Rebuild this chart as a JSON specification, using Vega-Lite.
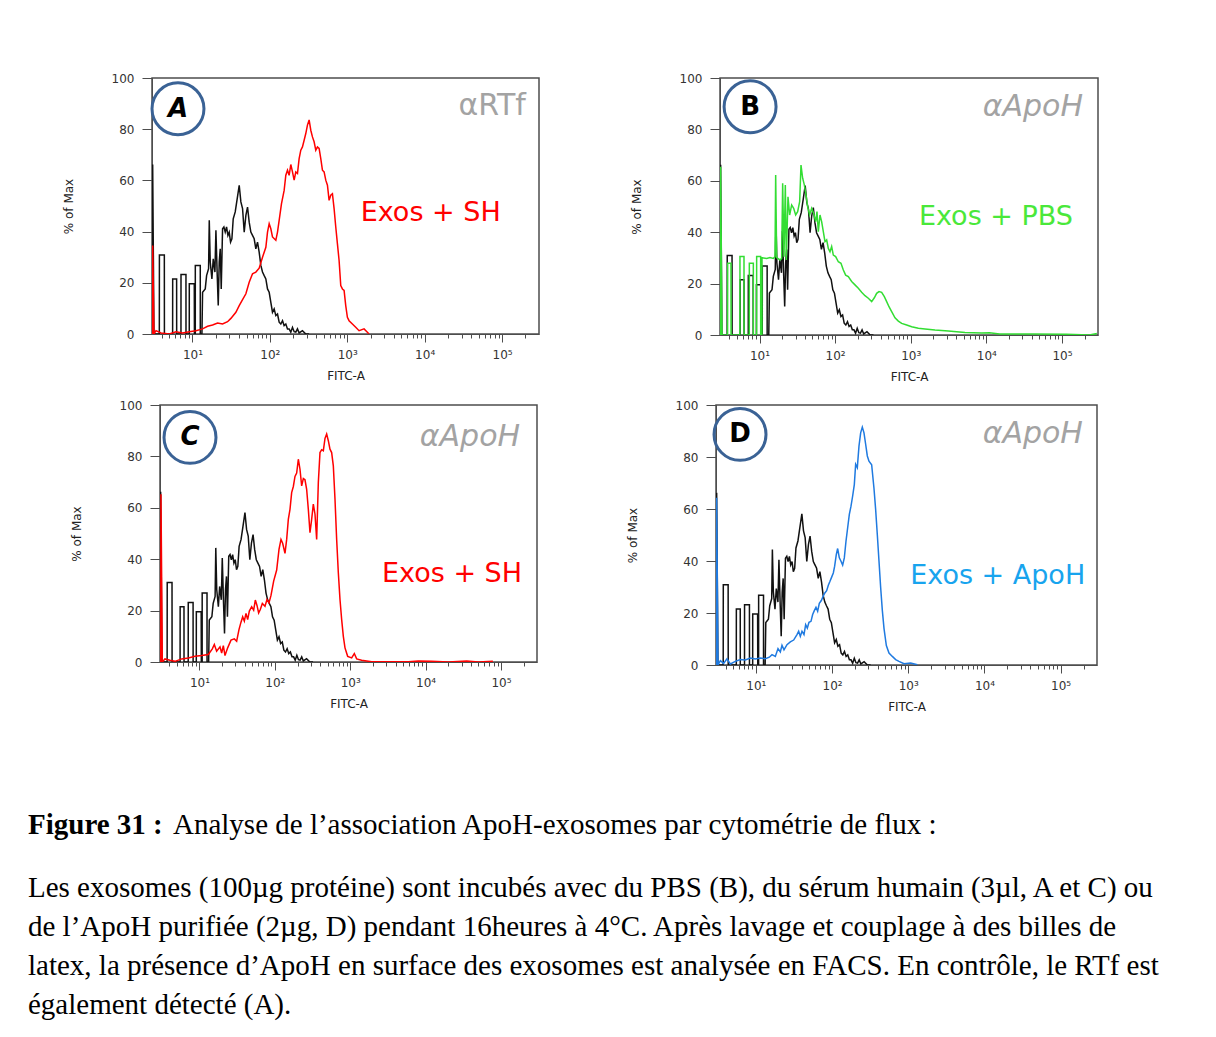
{
  "$schema": "https://vega.github.io/schema/vega-lite/v6.json",
  "background": "white",
  "padding": {"left": 28, "top": 71, "right": 5, "bottom": 5},
  "spacing": 97,
  "config": {
    "view": {"stroke": "#4d4d4d", "strokeWidth": 1.5},
    "axis": {"grid": false, "labelFont": "DejaVu Sans", "labelFontSize": 12, "labelColor": "#333333", "titleFont": "DejaVu Sans", "titleFontSize": 12, "titleFontWeight": "normal", "titleColor": "#222222", "domainColor": "#4d4d4d", "tickColor": "#4d4d4d"}
  },
  "datasets": {
    "ctrl": [
      {"x":3.02,"y":0},{"x":3.06,"y":66.2},{"x":3.18,"y":0},{"x":3.73,"y":0},{"x":3.74,"y":30.9},{"x":4.33,"y":30.9},{"x":4.34,"y":0},{"x":5.54,"y":0},{"x":5.55,"y":21.5},{"x":6.24,"y":21.5},{"x":6.25,"y":0},{"x":7.1,"y":0},{"x":7.11,"y":23.2},{"x":8.24,"y":23.2},{"x":8.25,"y":0},{"x":9.09,"y":0},{"x":9.1,"y":19.6},{"x":10.55,"y":19.6},{"x":10.6,"y":0},{"x":10.87,"y":0},{"x":10.88,"y":26.8},{"x":12.61,"y":26.8},{"x":12.62,"y":0},{"x":13.25,"y":0},{"x":13.51,"y":16.3},{"x":14.62,"y":17.6},{"x":15.22,"y":22.8},{"x":16.15,"y":25.5},{"x":16.48,"y":44.4},{"x":16.97,"y":28.1},{"x":17.83,"y":21.5},{"x":18.55,"y":29.4},{"x":19.5,"y":24.2},{"x":20.09,"y":40.5},{"x":20.89,"y":22.8},{"x":21.52,"y":11.1},{"x":22.17,"y":28.1},{"x":22.84,"y":33.3},{"x":23.52,"y":17.6},{"x":24.48,"y":41.1},{"x":25.47,"y":41.8},{"x":26.5,"y":39.8},{"x":27.57,"y":41.8},{"x":28.69,"y":38.5},{"x":29.85,"y":39.8},{"x":31.05,"y":35.9},{"x":32.31,"y":37.2},{"x":33.61,"y":45.0},{"x":35.67,"y":47.7},{"x":37.85,"y":52.9},{"x":40.17,"y":58.1},{"x":42.21,"y":51.6},{"x":44.37,"y":49.0},{"x":46.62,"y":39.8},{"x":48.98,"y":46.3},{"x":51.45,"y":49.6},{"x":54.06,"y":43.7},{"x":56.8,"y":39.8},{"x":59.68,"y":38.5},{"x":62.7,"y":37.2},{"x":65.88,"y":33.3},{"x":69.22,"y":35.9},{"x":72.72,"y":32.0},{"x":76.43,"y":26.8},{"x":80.35,"y":24.2},{"x":84.44,"y":22.8},{"x":88.72,"y":21.5},{"x":93.22,"y":17.6},{"x":97.95,"y":16.3},{"x":102.9,"y":12.4},{"x":108.1,"y":8.5},{"x":113.6,"y":9.8},{"x":119.4,"y":7.2},{"x":125.5,"y":7.8},{"x":131.8,"y":4.6},{"x":138.5,"y":3.9},{"x":145.6,"y":5.2},{"x":152.9,"y":3.3},{"x":160.7,"y":3.9},{"x":168.9,"y":2.0},{"x":177.4,"y":2.0},{"x":186.4,"y":0.7},{"x":195.9,"y":2.6},{"x":205.9,"y":0.9},{"x":216.3,"y":0.7},{"x":227.3,"y":2.0},{"x":238.8,"y":0.4},{"x":263.6,"y":1.3},{"x":291.1,"y":0},{"x":321.4,"y":0}
    ],
    "A": [
      {"x":3.04,"y":0},{"x":3.06,"y":34.6},{"x":3.18,"y":0},{"x":3.38,"y":1.3},{"x":3.92,"y":0.4},{"x":5.02,"y":0},{"x":6.12,"y":0.9},{"x":7.46,"y":0.4},{"x":9.09,"y":0.9},{"x":11.09,"y":1.3},{"x":13.51,"y":2.0},{"x":15.68,"y":3.0},{"x":18.19,"y":3.5},{"x":21.1,"y":4.3},{"x":24.48,"y":3.9},{"x":28.41,"y":4.8},{"x":31.36,"y":6.1},{"x":36.38,"y":8.5},{"x":40.17,"y":11.1},{"x":44.37,"y":13.4},{"x":48.98,"y":15.7},{"x":54.06,"y":20.2},{"x":59.68,"y":23.5},{"x":65.88,"y":24.2},{"x":72.72,"y":25.7},{"x":80.35,"y":30.0},{"x":88.72,"y":33.9},{"x":93.22,"y":39.8},{"x":97.95,"y":43.1},{"x":102.9,"y":41.1},{"x":108.1,"y":37.9},{"x":119.4,"y":36.6},{"x":125.5,"y":39.8},{"x":131.8,"y":44.4},{"x":141.3,"y":50.9},{"x":152.9,"y":56.1},{"x":160.7,"y":62.0},{"x":168.9,"y":64.0},{"x":177.4,"y":62.0},{"x":186.4,"y":66.2},{"x":195.9,"y":63.3},{"x":205.9,"y":60.1},{"x":216.3,"y":63.3},{"x":227.3,"y":62.7},{"x":238.8,"y":68.5},{"x":250.9,"y":71.8},{"x":263.6,"y":73.1},{"x":277.1,"y":75.7},{"x":291.1,"y":78.3},{"x":305.9,"y":81.6},{"x":321.4,"y":83.6},{"x":337.8,"y":79.6},{"x":354.9,"y":77.0},{"x":372.9,"y":75.1},{"x":391.9,"y":71.8},{"x":411.8,"y":73.1},{"x":432.7,"y":72.5},{"x":454.7,"y":68.5},{"x":477.8,"y":64.0},{"x":502,"y":63.3},{"x":527.5,"y":60.1},{"x":554.3,"y":58.1},{"x":582.5,"y":52.2},{"x":612,"y":54.2},{"x":643.1,"y":54.8},{"x":675.8,"y":49.0},{"x":710.1,"y":41.8},{"x":746.2,"y":35.2},{"x":784.1,"y":28.7},{"x":823.9,"y":18.9},{"x":865.8,"y":17.6},{"x":909.8,"y":17.0},{"x":955.4,"y":11.1},{"x":1004,"y":6.5},{"x":1055,"y":5.2},{"x":1165,"y":3.9},{"x":1286,"y":2.6},{"x":1420,"y":1.3},{"x":1648,"y":2.0},{"x":1819,"y":0.7},{"x":1911,"y":0}
    ],
    "B": [
      {"x":3.05,"y":0},{"x":3.06,"y":65.5},{"x":3.19,"y":0},{"x":3.78,"y":0},{"x":3.79,"y":27.9},{"x":4.19,"y":27.9},{"x":4.2,"y":0},{"x":5.5,"y":0},{"x":5.51,"y":30.5},{"x":6.23,"y":30.5},{"x":6.24,"y":0},{"x":7.32,"y":0},{"x":7.33,"y":27.9},{"x":8.28,"y":27.9},{"x":8.29,"y":0},{"x":9.15,"y":0},{"x":9.16,"y":30.5},{"x":10.35,"y":30.5},{"x":10.36,"y":0},{"x":10.77,"y":0},{"x":10.78,"y":30.1},{"x":12.43,"y":29.8},{"x":13.75,"y":30.1},{"x":15.22,"y":29.8},{"x":16.02,"y":30.5},{"x":16.35,"y":62.3},{"x":16.85,"y":30.1},{"x":18.65,"y":29.2},{"x":19.62,"y":29.8},{"x":20.23,"y":59.0},{"x":21.07,"y":30.5},{"x":21.94,"y":58.4},{"x":22.62,"y":29.2},{"x":23.79,"y":53.8},{"x":25.03,"y":46.7},{"x":26.61,"y":50.6},{"x":28.28,"y":49.3},{"x":30.06,"y":46.7},{"x":31.94,"y":48.0},{"x":33.95,"y":51.9},{"x":35.36,"y":66.1},{"x":37.2,"y":61.0},{"x":39.13,"y":58.4},{"x":41.17,"y":54.5},{"x":43.31,"y":49.9},{"x":46.03,"y":46.7},{"x":48.93,"y":49.3},{"x":51.99,"y":47.3},{"x":55.26,"y":44.1},{"x":57.54,"y":48.0},{"x":59.93,"y":40.2},{"x":63.05,"y":46.7},{"x":66.32,"y":44.1},{"x":69.78,"y":40.2},{"x":73.39,"y":36.3},{"x":77.26,"y":37.0},{"x":81.27,"y":33.7},{"x":85.51,"y":32.4},{"x":89.95,"y":34.4},{"x":94.65,"y":31.1},{"x":101.6,"y":30.5},{"x":110.2,"y":28.5},{"x":119.5,"y":27.9},{"x":128.4,"y":25.3},{"x":137.8,"y":23.3},{"x":149.4,"y":22.7},{"x":165.4,"y":20.8},{"x":183.1,"y":19.5},{"x":202.7,"y":18.2},{"x":224.3,"y":16.6},{"x":248.3,"y":15.3},{"x":274.8,"y":14.3},{"x":304.2,"y":13.0},{"x":330,"y":14.5},{"x":354.2,"y":16.2},{"x":380.4,"y":16.9},{"x":412.6,"y":16.6},{"x":447.5,"y":14.9},{"x":480.6,"y":13.0},{"x":515.9,"y":11.0},{"x":559.6,"y":9.1},{"x":619.4,"y":6.7},{"x":685.5,"y":5.4},{"x":758.7,"y":4.5},{"x":883.8,"y":3.9},{"x":1029,"y":3.2},{"x":1261,"y":2.6},{"x":1545,"y":2.3},{"x":2095,"y":1.9},{"x":3145,"y":1.6},{"x":5224,"y":1.0},{"x":8679,"y":0.8},{"x":11000,"y":0.9},{"x":15000,"y":0.4},{"x":42000,"y":0.4},{"x":115000,"y":0.3},{"x":230000,"y":0},{"x":290000,"y":0.6}
    ],
    "C": [
      {"x":3.07,"y":0},{"x":3.09,"y":65.3},{"x":3.22,"y":0},{"x":3.49,"y":1.2},{"x":4.07,"y":0.65},{"x":4.74,"y":0.26},{"x":5.81,"y":1.2},{"x":7.13,"y":1.6},{"x":8.74,"y":2.2},{"x":10.71,"y":2.5},{"x":13.12,"y":2.9},{"x":14.83,"y":5.1},{"x":15.76,"y":6.8},{"x":16.92,"y":4.2},{"x":18.74,"y":5.9},{"x":19.72,"y":3.5},{"x":20.75,"y":6.4},{"x":21.83,"y":2.5},{"x":23.69,"y":5.5},{"x":26.22,"y":8.5},{"x":29.04,"y":9.0},{"x":31.18,"y":8.1},{"x":33.47,"y":12.6},{"x":35.59,"y":15.5},{"x":37.45,"y":17.6},{"x":39.4,"y":15.9},{"x":41.46,"y":18.9},{"x":43.63,"y":16.5},{"x":45.91,"y":19.8},{"x":49.29,"y":21.5},{"x":52.4,"y":20.2},{"x":55.13,"y":24.1},{"x":58.0,"y":22.0},{"x":61.02,"y":19.1},{"x":64.21,"y":20.4},{"x":68.29,"y":22.8},{"x":74.06,"y":21.7},{"x":78.71,"y":24.3},{"x":83.65,"y":23.0},{"x":88.95,"y":25.9},{"x":96.49,"y":31.5},{"x":105.8,"y":35.8},{"x":113.6,"y":43.8},{"x":120.7,"y":47.7},{"x":127.0,"y":46.2},{"x":136.4,"y":42.3},{"x":143.6,"y":47.7},{"x":151,"y":55.5},{"x":158.9,"y":59.4},{"x":167.2,"y":65.9},{"x":176,"y":68.3},{"x":185.1,"y":72.2},{"x":194.8,"y":73.5},{"x":205,"y":78.9},{"x":215.7,"y":75.0},{"x":227,"y":68.5},{"x":238.8,"y":71.4},{"x":251.2,"y":70.9},{"x":264.3,"y":67.2},{"x":278.2,"y":59.4},{"x":292.7,"y":50.3},{"x":307.9,"y":55.5},{"x":324,"y":61.4},{"x":341,"y":57.5},{"x":358.8,"y":47.7},{"x":377.5,"y":69.8},{"x":397.2,"y":81.5},{"x":418,"y":82.6},{"x":439.8,"y":82.2},{"x":462.8,"y":87.0},{"x":486.9,"y":88.7},{"x":512.3,"y":86.1},{"x":539,"y":82.8},{"x":567.2,"y":81.5},{"x":596.8,"y":76.3},{"x":628.1,"y":63.3},{"x":660.9,"y":47.7},{"x":695.4,"y":34.7},{"x":731.7,"y":24.3},{"x":770,"y":16.5},{"x":810.1,"y":10.0},{"x":852.5,"y":5.5},{"x":924.7,"y":2.2},{"x":1045,"y":1.6},{"x":1133,"y":3.3},{"x":1217,"y":1.2},{"x":1418,"y":0.65},{"x":1924,"y":0.1},{"x":3201,"y":0.1},{"x":5897,"y":0.1},{"x":8003,"y":0.4},{"x":12000,"y":0.3},{"x":20000,"y":0},{"x":35000,"y":0.4},{"x":50000,"y":0},{"x":78000,"y":0.3}
    ],
    "D": [
      {"x":3.05,"y":0},{"x":3.06,"y":64.3},{"x":3.19,"y":0},{"x":3.42,"y":1.7},{"x":3.78,"y":0.6},{"x":4.18,"y":2.4},{"x":4.63,"y":0.4},{"x":5.38,"y":1.4},{"x":6.26,"y":2.1},{"x":7.28,"y":1.9},{"x":8.47,"y":2.7},{"x":9.84,"y":2.3},{"x":11.45,"y":2.7},{"x":13.32,"y":2.4},{"x":15.03,"y":3.0},{"x":16.29,"y":4.0},{"x":18.02,"y":3.3},{"x":19.53,"y":6.3},{"x":20.96,"y":5.0},{"x":22.03,"y":7.6},{"x":23.41,"y":5.8},{"x":25.63,"y":7.8},{"x":28.35,"y":8.9},{"x":31.35,"y":9.6},{"x":34.67,"y":11.7},{"x":36.47,"y":13.0},{"x":38.35,"y":11.0},{"x":40.33,"y":13.0},{"x":42.84,"y":11.7},{"x":45.05,"y":15.5},{"x":47.38,"y":14.2},{"x":49.83,"y":16.4},{"x":52.92,"y":16.8},{"x":55.65,"y":19.4},{"x":58.53,"y":20.9},{"x":61.55,"y":22.2},{"x":64.73,"y":20.7},{"x":68.08,"y":23.7},{"x":72.32,"y":24.8},{"x":76.05,"y":26.3},{"x":80.0,"y":27.6},{"x":84.98,"y":28.6},{"x":89.37,"y":30.7},{"x":93.99,"y":32.2},{"x":98.83,"y":33.8},{"x":103.9,"y":35.4},{"x":108.2,"y":38.0},{"x":113.8,"y":42.5},{"x":118.5,"y":44.8},{"x":124.6,"y":41.2},{"x":131.1,"y":39.9},{"x":137.8,"y":38.4},{"x":144.9,"y":41.2},{"x":152.4,"y":47.6},{"x":160.3,"y":52.8},{"x":168.6,"y":57.9},{"x":177.3,"y":61.1},{"x":186.4,"y":65.0},{"x":196,"y":69.4},{"x":204.1,"y":77.2},{"x":214.6,"y":75.9},{"x":225.7,"y":84.2},{"x":237.4,"y":89.3},{"x":249.6,"y":91.5},{"x":262.5,"y":89.3},{"x":276.1,"y":84.9},{"x":290.4,"y":80.4},{"x":305.4,"y":78.4},{"x":331,"y":77.0},{"x":355,"y":68.0},{"x":373,"y":60.0},{"x":393,"y":50.0},{"x":413,"y":40.0},{"x":434,"y":30.0},{"x":457,"y":21.0},{"x":481,"y":14.0},{"x":516,"y":7.5},{"x":559,"y":4.6},{"x":618.2,"y":3.3},{"x":683.9,"y":2.1},{"x":756.2,"y":1.4},{"x":879.5,"y":0.5},{"x":1076,"y":0.8},{"x":1316,"y":0.1}
    ]
  },
  "vconcat": [
    {
      "spacing": 15,
      "vconcat": [
        {
          "spacing": 0,
          "hconcat": [
            {"width": 33, "height": 10, "view": {"stroke": null}, "data": {"values": []}, "mark": "point"},
            {
              "bounds": "flush",
              "spacing": 181,
              "hconcat": [
                {
                  "width": 387, "height": 256,
                  "layer": [
                    {"data": {"name": "ctrl"}, "mark": {"type": "line", "color": "#111111", "strokeWidth": 1.5, "clip": true},
                     "encoding": {
                       "x": {"field": "x", "type": "quantitative", "scale": {"type": "log", "domain": [3, 300000], "nice": false},
                             "axis": {"title": "FITC-A", "values": [4,5,6,7,8,9,10,20,30,40,50,60,70,80,90,100,200,300,400,500,600,700,800,900,1000,2000,3000,4000,5000,6000,7000,8000,9000,10000,20000,30000,40000,50000,60000,70000,80000,90000,100000,200000],
                                      "labelExpr": "datum.value == 10 ? '10¹' : datum.value == 100 ? '10²' : datum.value == 1000 ? '10³' : datum.value == 10000 ? '10⁴' : datum.value == 100000 ? '10⁵' : ''",
                                      "tickSize": {"condition": {"test": "indexof([10,100,1000,10000,100000], datum.value) >= 0", "value": 8}, "value": 4},
                                      "labelPadding": 7, "labelOverlap": false, "labelFlush": false, "titlePadding": 10}},
                       "y": {"field": "y", "type": "quantitative", "scale": {"domain": [0, 100], "nice": false},
                             "axis": {"title": "% of Max", "values": [0,20,40,60,80,100], "tickSize": 10, "labelPadding": 8, "titlePadding": 36}}
                     }},
                    {"data": {"name": "A"}, "mark": {"type": "line", "color": "#ff0000", "strokeWidth": 1.5, "clip": true},
                     "encoding": {"x": {"field": "x", "type": "quantitative"}, "y": {"field": "y", "type": "quantitative"}}},
                    {"data": {"values": [{"x": 6.5, "y": 88, "label": "A"}]},
                     "layer": [
                       {"mark": {"type": "point", "shape": "circle", "size": 2700, "filled": false, "stroke": "#3a6295", "strokeWidth": 3, "opacity": 1},
                        "encoding": {"x": {"field": "x", "type": "quantitative"}, "y": {"field": "y", "type": "quantitative"}}},
                       {"mark": {"type": "text", "font": "DejaVu Sans", "fontSize": 26, "fontWeight": "bold", "fontStyle": "italic", "color": "#000000", "baseline": "middle", "align": "center"},
                        "encoding": {"x": {"field": "x", "type": "quantitative"}, "y": {"field": "y", "type": "quantitative"}, "text": {"field": "label"}}}
                     ]},
                    {"data": {"values": [{"x": 203000, "y": 89, "label": "αRTf"}]},
                     "mark": {"type": "text", "font": "DejaVu Sans", "fontSize": 30, "color": "#a3a3a3", "align": "right", "baseline": "middle"},
                     "encoding": {"x": {"field": "x", "type": "quantitative"}, "y": {"field": "y", "type": "quantitative"}, "text": {"field": "label"}}},
                    {"data": {"values": [{"x": 96000, "y": 47.1, "label": "Exos + SH"}]},
                     "mark": {"type": "text", "font": "DejaVu Sans", "fontSize": 27, "color": "#ff0000", "align": "right", "baseline": "middle"},
                     "encoding": {"x": {"field": "x", "type": "quantitative"}, "y": {"field": "y", "type": "quantitative"}, "text": {"field": "label"}}}
                  ]
                },
                {
                  "width": 378, "height": 257,
                  "layer": [
                    {"data": {"name": "ctrl"}, "mark": {"type": "line", "color": "#111111", "strokeWidth": 1.5, "clip": true},
                     "encoding": {
                       "x": {"field": "x", "type": "quantitative", "scale": {"type": "log", "domain": [3, 300000], "nice": false},
                             "axis": {"title": "FITC-A", "values": [4,5,6,7,8,9,10,20,30,40,50,60,70,80,90,100,200,300,400,500,600,700,800,900,1000,2000,3000,4000,5000,6000,7000,8000,9000,10000,20000,30000,40000,50000,60000,70000,80000,90000,100000,200000],
                                      "labelExpr": "datum.value == 10 ? '10¹' : datum.value == 100 ? '10²' : datum.value == 1000 ? '10³' : datum.value == 10000 ? '10⁴' : datum.value == 100000 ? '10⁵' : ''",
                                      "tickSize": {"condition": {"test": "indexof([10,100,1000,10000,100000], datum.value) >= 0", "value": 8}, "value": 4},
                                      "labelPadding": 7, "labelOverlap": false, "labelFlush": false, "titlePadding": 10}},
                       "y": {"field": "y", "type": "quantitative", "scale": {"domain": [0, 100], "nice": false},
                             "axis": {"title": "% of Max", "values": [0,20,40,60,80,100], "tickSize": 10, "labelPadding": 8, "titlePadding": 36}}
                     }},
                    {"data": {"name": "B"}, "mark": {"type": "line", "color": "#33dd33", "strokeWidth": 1.5, "clip": true},
                     "encoding": {"x": {"field": "x", "type": "quantitative"}, "y": {"field": "y", "type": "quantitative"}}},
                    {"data": {"values": [{"x": 7.5, "y": 88.8, "label": "B"}]},
                     "layer": [
                       {"mark": {"type": "point", "shape": "circle", "size": 2700, "filled": false, "stroke": "#3a6295", "strokeWidth": 3, "opacity": 1},
                        "encoding": {"x": {"field": "x", "type": "quantitative"}, "y": {"field": "y", "type": "quantitative"}}},
                       {"mark": {"type": "text", "font": "DejaVu Sans", "fontSize": 26, "fontWeight": "bold", "color": "#000000", "baseline": "middle", "align": "center"},
                        "encoding": {"x": {"field": "x", "type": "quantitative"}, "y": {"field": "y", "type": "quantitative"}, "text": {"field": "label"}}}
                     ]},
                    {"data": {"values": [{"x": 190000, "y": 88.8, "label": "αApoH"}]},
                     "mark": {"type": "text", "font": "DejaVu Sans", "fontSize": 30, "fontStyle": "italic", "color": "#a3a3a3", "align": "right", "baseline": "middle"},
                     "encoding": {"x": {"field": "x", "type": "quantitative"}, "y": {"field": "y", "type": "quantitative"}, "text": {"field": "label"}}},
                    {"data": {"values": [{"x": 140000, "y": 46, "label": "Exos + PBS"}]},
                     "mark": {"type": "text", "font": "DejaVu Sans", "fontSize": 27, "color": "#4ae83a", "align": "right", "baseline": "middle"},
                     "encoding": {"x": {"field": "x", "type": "quantitative"}, "y": {"field": "y", "type": "quantitative"}, "text": {"field": "label"}}}
                  ]
                }
              ]
            }
          ]
        },
        {
          "spacing": 0,
          "hconcat": [
            {"width": 41, "height": 10, "view": {"stroke": null}, "data": {"values": []}, "mark": "point"},
            {
              "bounds": "flush",
              "spacing": 179,
              "hconcat": [
                {
                  "width": 377, "height": 257,
                  "layer": [
                    {"data": {"name": "ctrl"}, "mark": {"type": "line", "color": "#111111", "strokeWidth": 1.5, "clip": true},
                     "encoding": {
                       "x": {"field": "x", "type": "quantitative", "scale": {"type": "log", "domain": [3, 300000], "nice": false},
                             "axis": {"title": "FITC-A", "values": [4,5,6,7,8,9,10,20,30,40,50,60,70,80,90,100,200,300,400,500,600,700,800,900,1000,2000,3000,4000,5000,6000,7000,8000,9000,10000,20000,30000,40000,50000,60000,70000,80000,90000,100000,200000],
                                      "labelExpr": "datum.value == 10 ? '10¹' : datum.value == 100 ? '10²' : datum.value == 1000 ? '10³' : datum.value == 10000 ? '10⁴' : datum.value == 100000 ? '10⁵' : ''",
                                      "tickSize": {"condition": {"test": "indexof([10,100,1000,10000,100000], datum.value) >= 0", "value": 8}, "value": 4},
                                      "labelPadding": 7, "labelOverlap": false, "labelFlush": false, "titlePadding": 10}},
                       "y": {"field": "y", "type": "quantitative", "scale": {"domain": [0, 100], "nice": false},
                             "axis": {"title": "% of Max", "values": [0,20,40,60,80,100], "tickSize": 10, "labelPadding": 8, "titlePadding": 36}}
                     }},
                    {"data": {"name": "C"}, "mark": {"type": "line", "color": "#ff0000", "strokeWidth": 1.5, "clip": true},
                     "encoding": {"x": {"field": "x", "type": "quantitative"}, "y": {"field": "y", "type": "quantitative"}}},
                    {"data": {"values": [{"x": 7.5, "y": 87.4, "label": "C"}]},
                     "layer": [
                       {"mark": {"type": "point", "shape": "circle", "size": 2700, "filled": false, "stroke": "#3a6295", "strokeWidth": 3, "opacity": 1},
                        "encoding": {"x": {"field": "x", "type": "quantitative"}, "y": {"field": "y", "type": "quantitative"}}},
                       {"mark": {"type": "text", "font": "DejaVu Sans", "fontSize": 26, "fontWeight": "bold", "fontStyle": "italic", "color": "#000000", "baseline": "middle", "align": "center"},
                        "encoding": {"x": {"field": "x", "type": "quantitative"}, "y": {"field": "y", "type": "quantitative"}, "text": {"field": "label"}}}
                     ]},
                    {"data": {"values": [{"x": 179000, "y": 87.5, "label": "αApoH"}]},
                     "mark": {"type": "text", "font": "DejaVu Sans", "fontSize": 30, "fontStyle": "italic", "color": "#a3a3a3", "align": "right", "baseline": "middle"},
                     "encoding": {"x": {"field": "x", "type": "quantitative"}, "y": {"field": "y", "type": "quantitative"}, "text": {"field": "label"}}},
                    {"data": {"values": [{"x": 190000, "y": 34.2, "label": "Exos + SH"}]},
                     "mark": {"type": "text", "font": "DejaVu Sans", "fontSize": 27, "color": "#ff0000", "align": "right", "baseline": "middle"},
                     "encoding": {"x": {"field": "x", "type": "quantitative"}, "y": {"field": "y", "type": "quantitative"}, "text": {"field": "label"}}}
                  ]
                },
                {
                  "width": 381, "height": 260,
                  "layer": [
                    {"data": {"name": "ctrl"}, "mark": {"type": "line", "color": "#111111", "strokeWidth": 1.5, "clip": true},
                     "encoding": {
                       "x": {"field": "x", "type": "quantitative", "scale": {"type": "log", "domain": [3, 300000], "nice": false},
                             "axis": {"title": "FITC-A", "values": [4,5,6,7,8,9,10,20,30,40,50,60,70,80,90,100,200,300,400,500,600,700,800,900,1000,2000,3000,4000,5000,6000,7000,8000,9000,10000,20000,30000,40000,50000,60000,70000,80000,90000,100000,200000],
                                      "labelExpr": "datum.value == 10 ? '10¹' : datum.value == 100 ? '10²' : datum.value == 1000 ? '10³' : datum.value == 10000 ? '10⁴' : datum.value == 100000 ? '10⁵' : ''",
                                      "tickSize": {"condition": {"test": "indexof([10,100,1000,10000,100000], datum.value) >= 0", "value": 8}, "value": 4},
                                      "labelPadding": 7, "labelOverlap": false, "labelFlush": false, "titlePadding": 10}},
                       "y": {"field": "y", "type": "quantitative", "scale": {"domain": [0, 100], "nice": false},
                             "axis": {"title": "% of Max", "values": [0,20,40,60,80,100], "tickSize": 10, "labelPadding": 8, "titlePadding": 36}}
                     }},
                    {"data": {"name": "D"}, "mark": {"type": "line", "color": "#1f7ae0", "strokeWidth": 1.5, "clip": true},
                     "encoding": {"x": {"field": "x", "type": "quantitative"}, "y": {"field": "y", "type": "quantitative"}}},
                    {"data": {"values": [{"x": 6.2, "y": 88.7, "label": "D"}]},
                     "layer": [
                       {"mark": {"type": "point", "shape": "circle", "size": 2700, "filled": false, "stroke": "#3a6295", "strokeWidth": 3, "opacity": 1},
                        "encoding": {"x": {"field": "x", "type": "quantitative"}, "y": {"field": "y", "type": "quantitative"}}},
                       {"mark": {"type": "text", "font": "DejaVu Sans", "fontSize": 26, "fontWeight": "bold", "color": "#000000", "baseline": "middle", "align": "center"},
                        "encoding": {"x": {"field": "x", "type": "quantitative"}, "y": {"field": "y", "type": "quantitative"}, "text": {"field": "label"}}}
                     ]},
                    {"data": {"values": [{"x": 196000, "y": 88.7, "label": "αApoH"}]},
                     "mark": {"type": "text", "font": "DejaVu Sans", "fontSize": 30, "fontStyle": "italic", "color": "#a3a3a3", "align": "right", "baseline": "middle"},
                     "encoding": {"x": {"field": "x", "type": "quantitative"}, "y": {"field": "y", "type": "quantitative"}, "text": {"field": "label"}}},
                    {"data": {"values": [{"x": 210000, "y": 34.2, "label": "Exos + ApoH"}]},
                     "mark": {"type": "text", "font": "DejaVu Sans", "fontSize": 27, "color": "#18a4ee", "align": "right", "baseline": "middle"},
                     "encoding": {"x": {"field": "x", "type": "quantitative"}, "y": {"field": "y", "type": "quantitative"}, "text": {"field": "label"}}}
                  ]
                }
              ]
            }
          ]
        }
      ]
    },
    {
      "spacing": 28.5,
      "vconcat": [
        {
          "width": 1000, "height": 30,
          "view": {"stroke": null},
          "data": {"values": [{"line": 1, "bold": "Figure 31 :", "rest": "Analyse de l’association ApoH-exosomes par cytométrie de flux :"}]},
          "layer": [
            {"mark": {"type": "text", "align": "left", "baseline": "middle", "font": "Liberation Serif", "fontSize": 29, "fontWeight": "bold", "color": "#000000"},
             "encoding": {"x": {"value": 0}, "y": {"field": "line", "type": "ordinal", "scale": {"type": "point", "padding": 0.5}, "axis": null}, "text": {"field": "bold"}}},
            {"mark": {"type": "text", "align": "left", "baseline": "middle", "font": "Liberation Serif", "fontSize": 29, "dx": 145, "color": "#000000"},
             "encoding": {"x": {"value": 0}, "y": {"field": "line", "type": "ordinal", "scale": {"type": "point", "padding": 0.5}, "axis": null}, "text": {"field": "rest"}}}
          ]
        },
        {
          "width": 1000, "height": 156,
          "view": {"stroke": null},
          "data": {"values": [
            {"line": 1, "text": "Les exosomes (100µg protéine) sont incubés avec du PBS (B), du sérum humain (3µl, A et C) ou"},
            {"line": 2, "text": "de l’ApoH purifiée (2µg, D) pendant 16heures à 4°C. Après lavage et couplage à des billes de"},
            {"line": 3, "text": "latex, la présence d’ApoH en surface des exosomes est analysée en FACS. En contrôle, le RTf est"},
            {"line": 4, "text": "également détecté (A)."}
          ]},
          "mark": {"type": "text", "align": "left", "baseline": "middle", "font": "Liberation Serif", "fontSize": 29, "color": "#000000"},
          "encoding": {"x": {"value": 0}, "y": {"field": "line", "type": "ordinal", "scale": {"type": "point", "padding": 0.5}, "axis": null}, "text": {"field": "text"}}
        }
      ]
    }
  ]
}
